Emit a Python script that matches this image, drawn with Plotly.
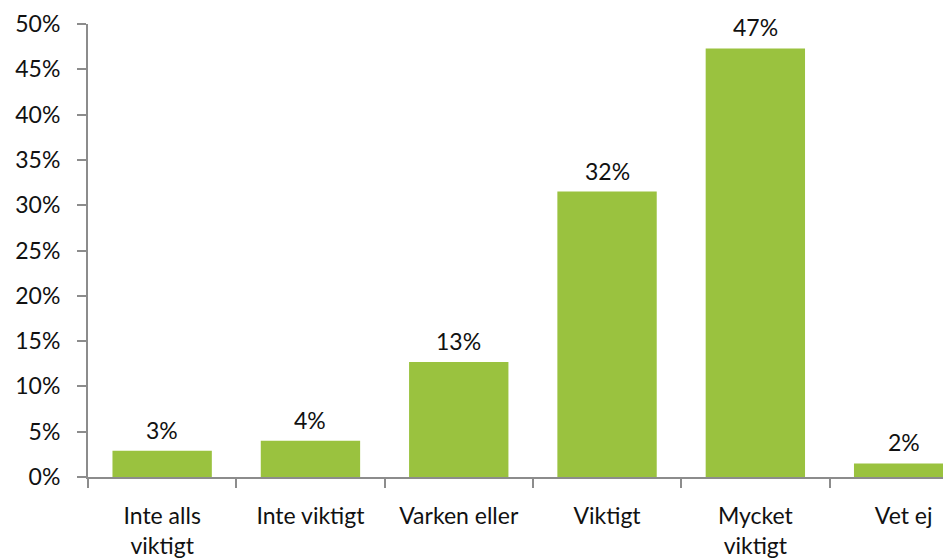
import plotly.graph_objects as go

categories = ["Inte alls<br>viktigt", "Inte viktigt", "Varken eller", "Viktigt", "Mycket<br>viktigt", "Vet ej"]
values = [0.029, 0.040, 0.127, 0.315, 0.473, 0.015]
value_labels = ["3%", "4%", "13%", "32%", "47%", "2%"]
y_ticks = [0, 0.05, 0.10, 0.15, 0.20, 0.25, 0.30, 0.35, 0.40, 0.45, 0.50]

FONT = "Lato"
AXIS = "#8c8c8c"
FS = 23

xs = list(range(len(categories)))
fig = go.Figure(go.Bar(
    x=xs,
    y=values,
    marker=dict(color="#9AC23F", line=dict(width=0)),
    cliponaxis=True,
))

for x, v, lab in zip(xs, values, value_labels):
    fig.add_annotation(x=x, y=v, text=lab, showarrow=False, yanchor="bottom",
                       yshift=5, font=dict(family=FONT, size=FS, color="#111111"))

# page body has an 8px margin: compensate so the plot lands where the reference has it
fig.update_layout(
    width=943, height=551,
    margin=dict(l=80, r=0, t=16, b=77, pad=0),
    paper_bgcolor="white", plot_bgcolor="white",
    bargap=0.33,
    showlegend=False,
    font=dict(family=FONT, size=FS, color="#111111"),
)
fig.update_xaxes(
    range=[-0.5, -0.5 + 863 / 148.3],
    tickmode="array",
    tickvals=xs,
    ticktext=categories,
    showline=True, linecolor=AXIS, linewidth=2,
    ticks="",
    showgrid=False, zeroline=False,
    tickfont=dict(family=FONT, size=FS, color="#111111"),
    ticklabelstandoff=17,
)
fig.update_xaxes(minor=dict(tickmode="array", tickvals=[i - 0.5 for i in range(len(categories) + 1)],
                            ticks="outside", ticklen=9, tickcolor=AXIS, tickwidth=1.5, showgrid=False))
fig.update_yaxes(
    range=[0, 0.5],
    tickmode="array",
    tickvals=y_ticks,
    tickformat=".0%",
    showline=True, linecolor=AXIS, linewidth=2,
    ticks="outside", ticklen=9, tickcolor=AXIS, tickwidth=1.5,
    showgrid=False, zeroline=False,
    tickfont=dict(family=FONT, size=FS, color="#111111"),
    ticklabelstandoff=12,
)

fig.write_html("out.html")
